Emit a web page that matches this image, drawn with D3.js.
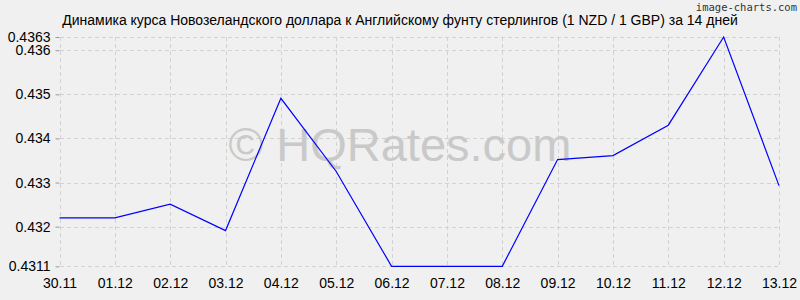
<!DOCTYPE html>
<html>
<head>
<meta charset="utf-8">
<script src="https://cdn.jsdelivr.net/npm/d3@7"></script>
<style>
  body { margin: 0; background: #f0f0f0; }
  svg { display: block; font-family: "Liberation Sans", Arial, sans-serif; }
</style>
</head>
<body>
<script>
const dates = ["30.11", "01.12", "02.12", "03.12", "04.12", "05.12", "06.12",
               "07.12", "08.12", "09.12", "10.12", "11.12", "12.12", "13.12"];
const rates = [0.4322, 0.4322, 0.43251, 0.43191, 0.43491, 0.43325, 0.4311,
               0.4311, 0.4311, 0.43352, 0.43361, 0.4343, 0.4363, 0.43293];
const yTicks = [0.4311, 0.432, 0.433, 0.434, 0.435, 0.436, 0.4363];
const yLabels = ["0.4311", "0.432", "0.433", "0.434", "0.435", "0.436", "0.4363"];

const width = 800, height = 300;
const margin = { top: 37, right: 21, bottom: 34, left: 59.5 };

const svg = d3.select("body").append("svg")
    .attr("width", width)
    .attr("height", height);

svg.append("rect")
    .attr("width", width)
    .attr("height", height)
    .attr("fill", "#f0f0f0");

const x = d3.scalePoint()
    .domain(dates)
    .range([margin.left, width - margin.right]);

const y = d3.scaleLinear()
    .domain([0.4311, 0.4363])
    .range([height - margin.bottom + 0.3, margin.top]);

// grid
const grid = svg.append("g")
    .attr("stroke", "#d2d2d2")
    .attr("stroke-dasharray", "4,3")
    .attr("shape-rendering", "crispEdges");

grid.selectAll(".vg")
    .data(dates)
    .enter().append("line")
    .attr("x1", d => Math.round(x(d)) + 0.5)
    .attr("x2", d => Math.round(x(d)) + 0.5)
    .attr("y1", margin.top)
    .attr("y2", y(0.4311));

grid.selectAll(".hg")
    .data(yTicks)
    .enter().append("line")
    .attr("x1", margin.left)
    .attr("x2", width - margin.right)
    .attr("y1", d => Math.round(y(d)) + 0.5)
    .attr("y2", d => Math.round(y(d)) + 0.5);

// watermark
svg.append("text")
    .attr("x", 400)
    .attr("y", 161)
    .attr("text-anchor", "middle")
    .attr("font-size", 47)
    .attr("fill", "#c9c9c9")
    .text("© HQRates.com");

// axes
const yAxis = d3.axisLeft(y)
    .tickValues(yTicks)
    .tickFormat((d, i) => yLabels[i])
    .tickSize(4)
    .tickPadding(5);

const ya = svg.append("g")
    .attr("transform", `translate(${margin.left},0)`)
    .call(yAxis);
ya.select(".domain").remove();
ya.selectAll("line").attr("stroke", "#999");
ya.selectAll("text")
    .attr("font-size", 14)
    .attr("fill", "#000")
    .attr("font-family", "Liberation Sans, Arial, sans-serif");

const xAxis = d3.axisBottom(x)
    .tickSize(0)
    .tickPadding(12);

const xa = svg.append("g")
    .attr("transform", `translate(0,${y(0.4311)})`)
    .call(xAxis);
xa.select(".domain").remove();
xa.selectAll("text")
    .attr("font-size", 14)
    .attr("fill", "#000")
    .attr("font-family", "Liberation Sans, Arial, sans-serif");

// line
const line = d3.line()
    .x((d, i) => x(dates[i]))
    .y(d => y(d));

svg.append("path")
    .datum(rates)
    .attr("fill", "none")
    .attr("stroke", "#0000ff")
    .attr("stroke-width", 1.2)
    .attr("d", line);

// title
svg.append("text")
    .attr("x", 400)
    .attr("y", 25)
    .attr("text-anchor", "middle")
    .attr("font-size", 14)
    .attr("fill", "#000")
    .text("Динамика курса Новозеландского доллара к Английскому фунту стерлингов (1 NZD / 1 GBP) за 14 дней");

svg.append("text")
    .attr("x", 797)
    .attr("y", 11)
    .attr("text-anchor", "end")
    .attr("font-size", 10.5)
    .attr("font-family", "DejaVu Sans Mono, monospace")
    .attr("fill", "#333")
    .text("image-charts.com");
</script>
</body>
</html>
